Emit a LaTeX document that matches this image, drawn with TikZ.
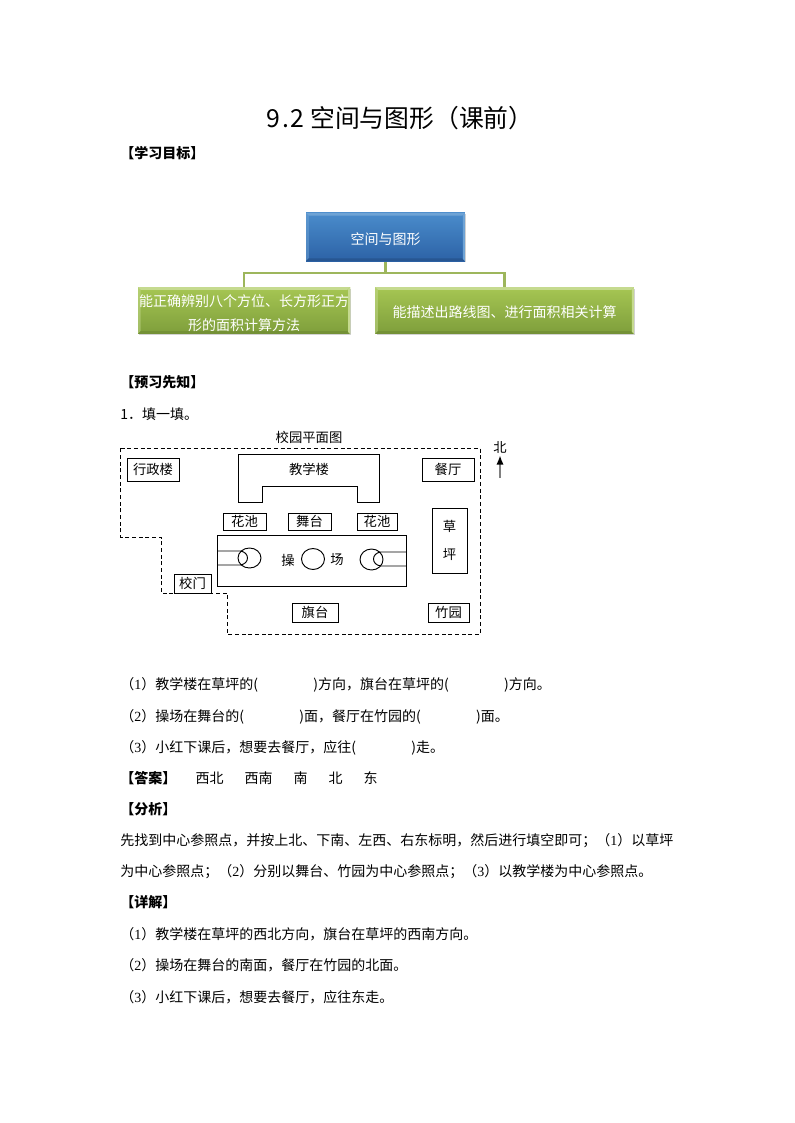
\documentclass[tikz,border=0pt]{standalone}
\usepackage{fontspec}
\setmainfont{Noto Sans CJK SC}
\newfontfamily\latinserif{Liberation Serif}
\usetikzlibrary{shadows,arrows.meta}
\newcommand{\nr}[1]{（{\latinserif #1}）}
\definecolor{bluetop}{HTML}{4A8CCB}
\definecolor{bluebot}{HTML}{2C62A6}
\definecolor{greentop}{HTML}{A6C653}
\definecolor{greenbot}{HTML}{7E9E3B}
\definecolor{connline}{HTML}{9DB65C}
\tikzset{
  plainbox/.style={draw, line width=.7pt, inner sep=0pt, font=\fontsize{10pt}{11pt}\selectfont},
  bevelbox/.style n args={2}{inner sep=0pt, text=white, drop shadow={opacity=.35, shadow xshift=1pt, shadow yshift=-1pt},
    font=\fontsize{10.5pt}{18pt}\selectfont, align=center,
    path picture={
      \fill[#1] (path picture bounding box.north west) -- (path picture bounding box.north east) -- ([shift={(-2pt,-2pt)}]path picture bounding box.north east) -- ([shift={(2pt,-2pt)}]path picture bounding box.north west) -- cycle;
      \fill[#1, opacity=.5] (path picture bounding box.north west) -- (path picture bounding box.south west) -- ([shift={(2pt,2pt)}]path picture bounding box.south west) -- ([shift={(2pt,-2pt)}]path picture bounding box.north west) -- cycle;
      \fill[#2] (path picture bounding box.south west) -- (path picture bounding box.south east) -- ([shift={(-2pt,2pt)}]path picture bounding box.south east) -- ([shift={(2pt,2pt)}]path picture bounding box.south west) -- cycle;
      \fill[#1] (path picture bounding box.north east) -- (path picture bounding box.south east) -- ([shift={(-1.5pt,1.5pt)}]path picture bounding box.south east) -- ([shift={(-1.5pt,-1.5pt)}]path picture bounding box.north east) -- cycle;
    }},
  bluebox/.style={bevelbox={bluetop!80!white}{bluebot!88!black}, top color=bluetop, bottom color=bluebot},
  greenbox/.style={bevelbox={greentop!65!white}{greenbot!92!black}, top color=greentop, bottom color=greenbot},
  conn/.style={draw=connline, line width=2pt},
  bodyline/.style={anchor=west, inner sep=0pt, font=\fontsize{10.5pt}{12pt}\selectfont},
  headline/.style={anchor=west, inner sep=0pt, font=\fontsize{10.5pt}{12pt}\selectfont\bfseries},
  dashline/.style={dash pattern=on 3pt off 2pt, line width=.6pt},
  thinline/.style={line width=.7pt}
}
\begin{document}
\begin{tikzpicture}[x=.75pt, y=-.75pt]
\useasboundingbox (0,0) rectangle (794,1123);
\fill[white] (0,0) rectangle (794,1123);
\node[anchor=west, inner sep=0pt] (title) at (266,118) {\fontsize{18.6pt}{20pt}\selectfont 9\hspace{1.5pt}.\hspace{1.5pt}2 空间与图形（课前）};
\node[headline] (goal) at (120,153) {【学习目标】};
\coordinate (hub) at (385.5,273);
\draw[conn] (385.5,240) -- (hub);
\node[bluebox, minimum width=119pt, minimum height=36pt] (root) at (385.5,237) {\rule{0pt}{12pt}空间与图形};
\node[greenbox, minimum width=159pt, minimum height=35pt] (leftbox) at (244,310.5) {\rule{0pt}{12.5pt}能正确辨别八个方位、长方形正方\\形的面积计算方法};
\node[greenbox, minimum width=194pt, minimum height=35pt] (rightbox) at (504.5,310.5) {\rule{0pt}{12pt}能描述出路线图、进行面积相关计算};
\draw[conn] (hub) -| (leftbox.north);
\draw[conn] (hub) -| (rightbox.north);
\node[headline] (pre) at (120,382) {【预习先知】};
\node[bodyline] (fill) at (120,414) {1．填一填。};
\node[font=\fontsize{10pt}{11pt}\selectfont, inner sep=0pt] (plan) at (309,437) {校园平面图};
\draw[dashline] (120.5,448) -- (480,448) -- (480,634) -- (227,634) -- (227,593) -- (161,593) -- (161,537) -- (120.5,537) -- cycle;
\draw[thinline] (238,502) -- (238,454) -- (379,454) -- (379,502) -- (357,502) -- (357,486) -- (262,486) -- (262,502) -- cycle;
\node[font=\fontsize{10pt}{11pt}\selectfont] (teach) at (309,469) {教学楼};
\foreach \nm/\cx/\cy/\w/\h/\txt in {admin/153/469.5/52/23/行政楼, dining/448/469.5/52/23/餐厅, poolA/244.5/521.5/43/17/花池, stage/309.5/521.5/43/17/舞台, poolB/377/521.5/40/17/花池, gate/192.5/583.5/37/19/校门, flag/315/612.5/46/19/旗台, bamboo/448.5/612.5/41/19/竹园}{
\node[plainbox, minimum width=\w*.75pt, minimum height=\h*.75pt] (\nm) at (\cx,\cy) {\txt};
}
\node[plainbox, minimum width=26.25pt, minimum height=48.75pt, align=center] (lawn) at (449.5,540.5) {草\\[10pt]坪};
\draw[thinline] (217,535) rectangle (406,586);
\draw[thinline] (249.5,558) ellipse (11.5 and 10);
\draw[thinline] (313,559) ellipse (11.5 and 10.5);
\draw[thinline] (371.5,559.5) ellipse (11.5 and 10.5);
\draw[thinline] (217,551) -- (240,551) .. controls (250,552) and (250,564) .. (240,565) -- (217,565);
\draw[thinline] (406,552) -- (381,552) .. controls (371,553) and (371,565) .. (381,566) -- (406,566);
\node[font=\fontsize{10pt}{11pt}\selectfont] (lab1) at (288,560) {操};
\node[font=\fontsize{10pt}{11pt}\selectfont] (lab2) at (337,560) {场};
\node[inner sep=0pt, font=\fontsize{10pt}{11pt}\selectfont] (north) at (500,447) {北};
\coordinate (tail) at (500,478);
\draw[-{Latex[length=7pt,width=5.5pt,black]}, gray, line width=1.5pt, shorten >=1.5pt] (tail) -- (north.south);
\foreach \y/\kind/\txt in {
  685/bodyline/\nr{1}教学楼在草坪的(\hspace{41.5pt})方向，旗台在草坪的(\hspace{41.5pt})方向。,
  717/bodyline/\nr{2}操场在舞台的(\hspace{41.5pt})面，餐厅在竹园的(\hspace{41.5pt})面。,
  748/bodyline/\nr{3}小红下课后，想要去餐厅，应往(\hspace{41.5pt})走。,
  778/headline/【答案】\hspace{14.5pt}{\mdseries 西北\hspace{15.75pt}西南\hspace{15.75pt}南\hspace{15.75pt}北\hspace{15.75pt}东},
  809/headline/【分析】,
  841/bodyline/先找到中心参照点，并按上北、下南、左西、右东标明，然后进行填空即可；\nr{1}以草坪,
  872/bodyline/为中心参照点；\nr{2}分别以舞台、竹园为中心参照点；\nr{3}以教学楼为中心参照点。,
  902/headline/【详解】,
  934/bodyline/\nr{1}教学楼在草坪的西北方向，旗台在草坪的西南方向。,
  965/bodyline/\nr{2}操场在舞台的南面，餐厅在竹园的北面。,
  997/bodyline/\nr{3}小红下课后，想要去餐厅，应往东走。}{
\node[\kind] (line\y) at (120,\y) {\txt};
}
\end{tikzpicture}
\end{document}
